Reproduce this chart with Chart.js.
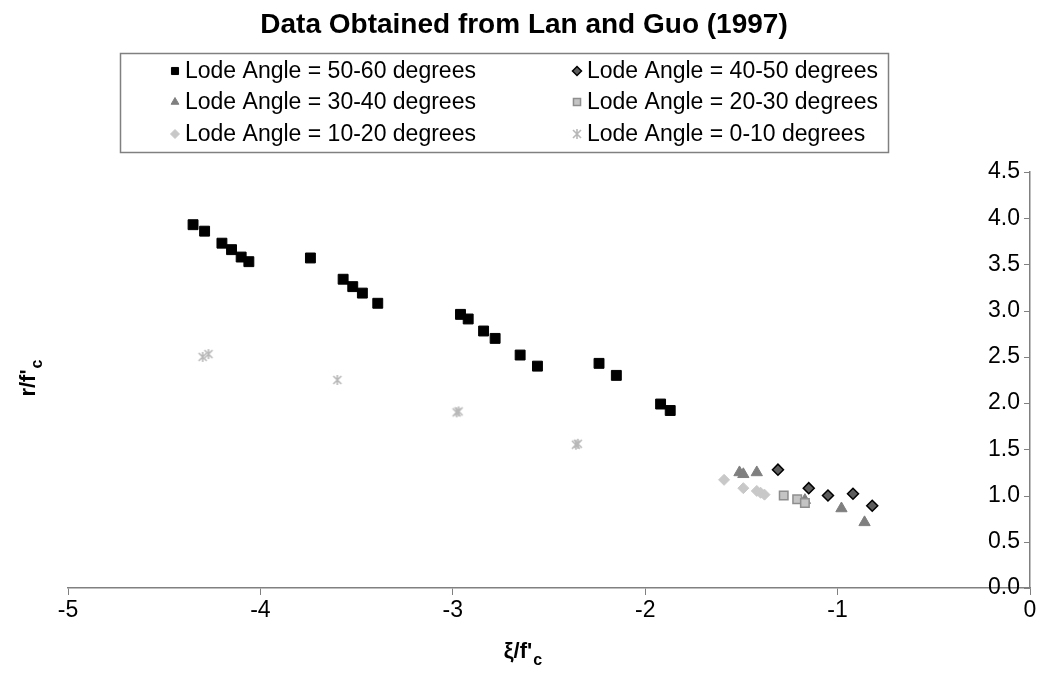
<!DOCTYPE html>
<html>
<head>
<meta charset="utf-8">
<script src="https://cdn.jsdelivr.net/npm/chart.js@4/dist/chart.umd.min.js"></script>
<style>
  html, body { margin: 0; padding: 0; background: #fff; }
  #wrap { width: 1045px; height: 690px; }
</style>
</head>
<body>
<div id="wrap"><canvas id="scatterChart" width="1045" height="690"></canvas></div>
<script>
// Series names (legend order)
const seriesNames = [
    'Lode Angle = 50-60 degrees',
    'Lode Angle = 40-50 degrees',
    'Lode Angle = 30-40 degrees',
    'Lode Angle = 20-30 degrees',
    'Lode Angle = 10-20 degrees',
    'Lode Angle = 0-10 degrees'
];

// xi/f'c and r/f'c values
const xi50 = [-4.35, -4.29, -4.20, -4.15, -4.10, -4.06, -3.74, -3.57, -3.52, -3.47, -3.39, -2.96, -2.92, -2.84, -2.78, -2.65, -2.56, -2.24, -2.15, -1.92, -1.87];
const r50  = [3.93, 3.86, 3.73, 3.66, 3.58, 3.53, 3.57, 3.34, 3.26, 3.19, 3.08, 2.96, 2.91, 2.78, 2.70, 2.52, 2.40, 2.43, 2.30, 1.99, 1.92];
const xi40 = [-1.31, -1.15, -1.05, -0.92, -0.82];
const r40  = [1.28, 1.08, 1.00, 1.02, 0.89];
const xi30 = [-1.51, -1.49, -1.42, -1.17, -0.98, -0.86];
const r30  = [1.25, 1.23, 1.25, 0.95, 0.86, 0.71];
const xi20 = [-1.28, -1.21, -1.17];
const r20  = [1.00, 0.96, 0.92];
const xi10 = [-1.59, -1.49, -1.42, -1.40, -1.38];
const r10  = [1.17, 1.08, 1.05, 1.03, 1.01];
const xi0  = [-4.30, -4.27, -3.60, -2.98, -2.97, -2.36, -2.35];
const r0   = [2.50, 2.53, 2.25, 1.90, 1.91, 1.55, 1.56];

// Tick values
const xTicks = [-5, -4, -3, -2, -1, 0];
const yTicks = [0, 0.5, 1, 1.5, 2, 2.5, 3, 3.5, 4, 4.5];

const FONT = "'Liberation Sans', Arial, sans-serif";

function zip(xs, ys) {
    return xs.map((x, i) => ({ x: x, y: ys[i] }));
}

// Asterisk-like marker (X with a vertical bar), as in the original
function makeAsterisk(color) {
    const c = document.createElement('canvas');
    c.width = 12; c.height = 12;
    const g = c.getContext('2d');
    g.strokeStyle = color;
    g.lineWidth = 1.6;
    g.beginPath();
    g.moveTo(2, 2); g.lineTo(10, 10);
    g.moveTo(10, 2); g.lineTo(2, 10);
    g.moveTo(6, 1); g.lineTo(6, 11);
    g.stroke();
    return c;
}
const asterisk = makeAsterisk('#b8b8b8');

const datasets = [
    { data: zip(xi50, r50), pointStyle: 'rect', pointRadius: 7, backgroundColor: '#000', borderColor: '#000', borderWidth: 1 },
    { data: zip(xi40, r40), pointStyle: 'rectRot', pointRadius: 5.5, backgroundColor: '#5c5c5c', borderColor: '#000', borderWidth: 1.5 },
    { data: zip(xi30, r30), pointStyle: 'triangle', pointRadius: 6.5, backgroundColor: '#7f7f7f', borderColor: '#7f7f7f', borderWidth: 1 },
    { data: zip(xi20, r20), pointStyle: 'rect', pointRadius: 6, backgroundColor: '#c4c4c4', borderColor: '#8e8e8e', borderWidth: 1.5 },
    { data: zip(xi10, r10), pointStyle: 'rectRot', pointRadius: 5.5, backgroundColor: '#c8c8c8', borderColor: '#c8c8c8', borderWidth: 1 },
    { data: zip(xi0, r0), pointStyle: asterisk, pointRadius: 6, backgroundColor: '#b8b8b8', borderColor: '#b8b8b8', borderWidth: 1 }
].map((d, i) => Object.assign(d, { label: seriesNames[i], order: 6 - i, showLine: false }));

// Title, boxed legend, axis titles with subscripts, inward y ticks
const extras = {
    id: 'extras',
    afterDraw(chart) {
        const ctx = chart.ctx;
        const area = chart.chartArea;
        const yScale = chart.scales.y;
        ctx.save();

        // title
        ctx.fillStyle = '#000';
        ctx.textAlign = 'center';
        ctx.textBaseline = 'middle';
        ctx.font = 'bold 28px ' + FONT;
        ctx.fillText('Data Obtained from Lan and Guo (1997)', 524, 25);

        // legend box
        ctx.strokeStyle = '#808080';
        ctx.lineWidth = 1.5;
        ctx.strokeRect(120.5, 53.5, 768, 99);
        ctx.font = '23px ' + FONT;
        ctx.textAlign = 'left';
        const colX = [175, 577];
        const rowY = [71, 102, 134];
        chart.data.datasets.forEach((ds, i) => {
            const cx = colX[i % 2];
            const cy = rowY[Math.floor(i / 2)];
            ctx.fillStyle = ds.backgroundColor;
            ctx.strokeStyle = ds.borderColor;
            ctx.lineWidth = ds.borderWidth;
            Chart.helpers.drawPoint(ctx, {
                pointStyle: ds.pointStyle,
                radius: ds.pointStyle === 'rect' ? 5 : 4.5,
                borderWidth: ds.borderWidth,
                rotation: 0
            }, cx, cy);
            ctx.fillStyle = '#000';
            ctx.fillText(ds.label, cx + 10, cy + 1);
        });

        // inward y tick marks
        ctx.strokeStyle = '#808080';
        ctx.lineWidth = 1;
        yTicks.forEach(v => {
            const py = Math.round(yScale.getPixelForValue(v)) + 0.5;
            ctx.beginPath();
            ctx.moveTo(area.right - 6, py);
            ctx.lineTo(area.right, py);
            ctx.stroke();
        });

        // x axis title: xi/f'c
        ctx.fillStyle = '#000';
        ctx.font = 'bold 22px ' + FONT;
        ctx.textAlign = 'left';
        ctx.textBaseline = 'alphabetic';
        const xt = "\u03BE/f'";
        const xw = ctx.measureText(xt).width;
        const x0 = 523 - (xw + 10) / 2;
        ctx.fillText(xt, x0, 658);
        ctx.font = 'bold 16px ' + FONT;
        ctx.fillText('c', x0 + xw + 1, 665);

        // y axis title: r/f'c (rotated)
        ctx.translate(35, 378);
        ctx.rotate(-Math.PI / 2);
        ctx.font = 'bold 22px ' + FONT;
        const yt = "r/f'";
        const yw = ctx.measureText(yt).width;
        const y0 = -(yw + 10) / 2;
        ctx.fillText(yt, y0, 0);
        ctx.font = 'bold 16px ' + FONT;
        ctx.fillText('c', y0 + yw + 1, 7);
        ctx.restore();
    }
};

const ctx = document.getElementById('scatterChart').getContext('2d');
new Chart(ctx, {
    type: 'scatter',
    data: { datasets: datasets },
    options: {
        responsive: false,
        animation: false,
        layout: { padding: { left: 68, top: 172, right: 0, bottom: 0 } },
        plugins: {
            legend: { display: false },
            title: { display: false },
            tooltip: { enabled: false }
        },
        scales: {
            x: {
                type: 'linear',
                position: 'bottom',
                min: -5,
                max: 0,
                afterFit(scale) { scale.height = 102; },
                afterBuildTicks(scale) { scale.ticks = xTicks.map(v => ({ value: v })); },
                grid: { display: true, drawOnChartArea: false, drawTicks: true, tickLength: 7, color: '#808080', lineWidth: 1 },
                border: { display: true, color: '#808080', width: 1.5 },
                ticks: {
                    color: '#000',
                    padding: 2,
                    font: { size: 23, family: FONT },
                    callback: v => String(v)
                }
            },
            y: {
                type: 'linear',
                position: 'right',
                min: 0,
                max: 4.5,
                afterFit(scale) { scale.width = 15; },
                afterBuildTicks(scale) { scale.ticks = yTicks.map(v => ({ value: v })); },
                grid: { display: false },
                border: { display: true, color: '#808080', width: 1.5 },
                ticks: {
                    mirror: true,
                    padding: -10,
                    color: '#000',
                    font: { size: 23, family: FONT },
                    callback: v => v.toFixed(1)
                }
            }
        }
    },
    plugins: [extras]
});
</script>
</body>
</html>
